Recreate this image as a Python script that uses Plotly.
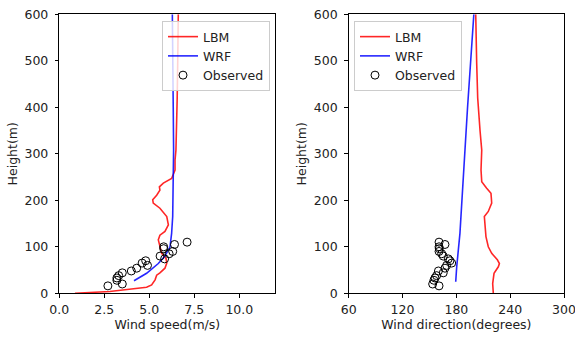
import plotly.graph_objects as go

# ---- Left panel: wind speed ----
lbm_h = [0, 4, 13, 18, 29, 39, 44, 54, 65, 75, 86, 100, 115, 125, 133, 147, 165, 183, 194, 201,
         211, 222, 229, 237, 247, 265, 287, 308, 350, 420, 500, 600]
lbm_speed = [0.87, 2.8, 4.85, 5.13, 5.32, 5.41, 5.59, 5.87, 5.97, 5.93, 5.69, 5.59, 5.5, 5.59, 5.87,
             6.06, 5.97, 5.59, 5.22, 5.19, 5.41, 5.59, 5.56, 5.78, 6.24, 6.43, 6.43, 6.48, 6.52, 6.55, 6.58, 6.61]

wrf_h = [27, 43, 64, 80, 100, 129, 165, 236, 308, 400, 500, 600]
wrf_speed = [4.15, 4.85, 5.5, 5.87, 6.15, 6.24, 6.3, 6.33, 6.35, 6.33, 6.3, 6.28]

# ---- Right panel: wind direction ----
lbm_dir_h = [0, 21, 43, 57, 64, 72, 86, 100, 122, 147, 165, 176, 194, 205, 215, 226, 240, 265,
             287, 308, 350, 420, 493, 600]
lbm_dir = [221.2, 220.5, 222.0, 226.8, 228.0, 225.7, 219.4, 215.6, 213.0, 211.9, 211.2, 215.6,
           219.4, 219.0, 218.6, 213.8, 208.3, 207.5, 208.0, 208.3, 206.4, 203.8, 202.7, 201.6]

wrf_dir_h = [25, 57, 129, 290, 400, 600]
wrf_dir = [179.3, 180.4, 184.0, 188.6, 192.5, 199.5]

# ---- Observations ----
obs_h = [16, 20, 28, 33, 38, 44, 48, 54, 60, 65, 70, 74, 80, 85, 90, 96, 100, 105, 110]
obs_speed = [2.7, 3.5, 3.2, 3.2, 3.3, 3.5, 4.0, 4.3, 4.9, 4.6, 4.8, 5.85, 5.6, 6.1, 6.3, 5.8, 5.8, 6.4, 7.1]
obs_dir = [160.7, 153.6, 155.0, 156.2, 158.0, 165.4, 160.0, 167.3, 169.2, 174.8, 172.9, 171.0,
           165.4, 163.7, 160.7, 161.0, 160.7, 167.3, 160.7]

x_ticks_speed = [0, 2.5, 5.0, 7.5, 10.0]
x_ticks_dir = [60, 120, 180, 240, 300]
y_ticks = [0, 100, 200, 300, 400, 500, 600]

RED = "rgba(255,0,0,0.85)"
BLUE = "rgba(0,0,255,0.85)"
FONT = "DejaVu Sans"
FS = 12.5
TXT = "#222"

fig = go.Figure()
fig.add_trace(go.Scatter(x=lbm_speed, y=lbm_h, mode="lines", name="LBM",
                         line=dict(color=RED, width=1.6), xaxis="x", yaxis="y", legend="legend"))
fig.add_trace(go.Scatter(x=wrf_speed, y=wrf_h, mode="lines", name="WRF",
                         line=dict(color=BLUE, width=1.6), xaxis="x", yaxis="y", legend="legend"))
fig.add_trace(go.Scatter(x=obs_speed, y=obs_h, mode="markers", name="Observed",
                         marker=dict(symbol="circle-open", size=8, color="black", line=dict(width=1)),
                         xaxis="x", yaxis="y", legend="legend"))

fig.add_trace(go.Scatter(x=lbm_dir, y=lbm_dir_h, mode="lines", name="LBM",
                         line=dict(color=RED, width=1.6), xaxis="x2", yaxis="y2", legend="legend2"))
fig.add_trace(go.Scatter(x=wrf_dir, y=wrf_dir_h, mode="lines", name="WRF",
                         line=dict(color=BLUE, width=1.6), xaxis="x2", yaxis="y2", legend="legend2"))
fig.add_trace(go.Scatter(x=obs_dir, y=obs_h, mode="markers", name="Observed",
                         marker=dict(symbol="circle-open", size=8, color="black", line=dict(width=1)),
                         xaxis="x2", yaxis="y2", legend="legend2"))

axis_common = dict(showline=True, linecolor="black", linewidth=1, mirror=True,
                   ticks="outside", ticklen=3.5, tickwidth=1, tickcolor="black",
                   showgrid=False, zeroline=False, automargin=False, ticklabeloverflow="allow",
                   tickfont=dict(size=FS, color=TXT, family=FONT),
                   title_font=dict(size=FS, color=TXT, family=FONT))

y_dom = [1 - 293.3 / 338, 1 - 14.3 / 338]
legend_common = dict(bgcolor="rgba(255,255,255,0.8)", bordercolor="#cccccc", borderwidth=1,
                     font=dict(size=FS, color=TXT, family=FONT), yanchor="top", xanchor="left",
                     y=1 - 21 / 338, tracegroupgap=0)

fig.update_layout(
    width=575, height=338, autosize=False,
    margin=dict(l=0, r=0, t=0, b=0, pad=0),
    paper_bgcolor="white", plot_bgcolor="white",
    font=dict(family=FONT, size=FS, color=TXT),
    xaxis=dict(domain=[59.3 / 575, 275.3 / 575], range=[0, 12], tickvals=x_ticks_speed,
               tickformat=".1f", ticklabelstandoff=1,
               title=dict(text="Wind speed(m/s)", standoff=3), anchor="y", **axis_common),
    yaxis=dict(domain=y_dom, range=[0, 600], tickvals=y_ticks, ticklabelstandoff=4,
               title=dict(text="Height(m)", standoff=4), anchor="x", **axis_common),
    xaxis2=dict(domain=[348.7 / 575, 564 / 575], range=[60, 300], tickvals=x_ticks_dir,
                ticklabelstandoff=1,
                title=dict(text="Wind direction(degrees)", standoff=3), anchor="y2", **axis_common),
    yaxis2=dict(domain=y_dom, range=[0, 600], tickvals=y_ticks, ticklabelstandoff=4,
                title=dict(text="Height(m)", standoff=4), anchor="x2", **axis_common),
    legend=dict(x=162 / 575, **legend_common),
    legend2=dict(x=354 / 575, **legend_common),
    showlegend=True,
)

fig.write_html("out.html")
